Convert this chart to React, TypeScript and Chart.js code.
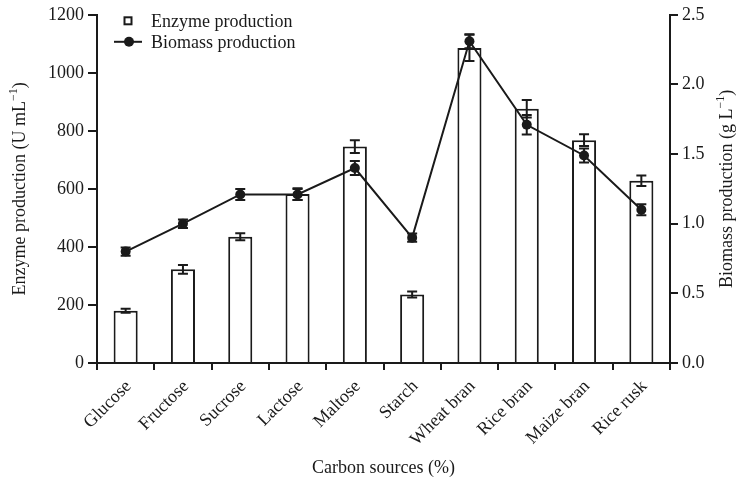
import { useEffect, useRef } from 'react';
import { Chart, registerables } from 'chart.js';

Chart.register(...registerables);

// Carbon sources tested
const categories = [
  'Glucose', 'Fructose', 'Sucrose', 'Lactose', 'Maltose',
  'Starch', 'Wheat bran', 'Rice bran', 'Maize bran', 'Rice rusk',
];

// Enzyme production (U mL-1) with standard error
const enzyme = [180, 323, 435, 582, 746, 236, 1086, 876, 768, 628];
const enzymeErr = [7, 15, 12, 20, 22, 10, 45, 30, 20, 18];

// Biomass production (g L-1) with standard error
const biomass = [0.8, 1.0, 1.21, 1.21, 1.4, 0.9, 2.31, 1.71, 1.49, 1.1];
const biomassErr = [0.03, 0.03, 0.04, 0.04, 0.05, 0.03, 0.05, 0.07, 0.05, 0.04];

// Axis ranges and tick steps
const enzymeTicks = { min: 0, max: 1200, step: 200 };
const biomassTicks = { min: 0, max: 2.5, step: 0.5 };

const FONT = '"Liberation Serif", "Times New Roman", serif';
const INK = '#1a1a1a';
const FONT_SIZE = 18;

type Part = { text: string; sup?: boolean };

function drawRich(ctx: CanvasRenderingContext2D, parts: Part[], cx: number, cy: number, angle: number) {
  ctx.save();
  ctx.translate(cx, cy);
  ctx.rotate(angle);
  ctx.fillStyle = INK;
  ctx.textBaseline = 'middle';
  ctx.textAlign = 'left';
  const widths = parts.map((p) => {
    ctx.font = `${p.sup ? 12 : FONT_SIZE}px ${FONT}`;
    return ctx.measureText(p.text).width;
  });
  const total = widths.reduce((a, b) => a + b, 0);
  let x = -total / 2;
  parts.forEach((p, i) => {
    ctx.font = `${p.sup ? 12 : FONT_SIZE}px ${FONT}`;
    ctx.fillText(p.text, x, p.sup ? -6 : 0);
    x += widths[i];
  });
  ctx.restore();
}

export default function App() {
  const ref = useRef<HTMLCanvasElement>(null);

  useEffect(() => {
    if (!ref.current) return;

    const errorBars = {
      id: 'errorBars',
      afterDatasetsDraw(chart: any) {
        const ctx = chart.ctx as CanvasRenderingContext2D;
        const xs = chart.scales.x;
        const yL = chart.scales.y;
        const yR = chart.scales.y1;
        const half = 5;
        const draw = (cx: number, top: number, bot: number) => {
          ctx.beginPath();
          ctx.moveTo(cx, top);
          ctx.lineTo(cx, bot);
          ctx.moveTo(cx - half, top);
          ctx.lineTo(cx + half, top);
          ctx.moveTo(cx - half, bot);
          ctx.lineTo(cx + half, bot);
          ctx.stroke();
        };
        ctx.save();
        ctx.strokeStyle = INK;
        ctx.lineWidth = 2;
        categories.forEach((_, i) => {
          const cx = xs.getPixelForValue(i);
          draw(cx, yL.getPixelForValue(enzyme[i] + enzymeErr[i]), yL.getPixelForValue(enzyme[i] - enzymeErr[i]));
          draw(cx, yR.getPixelForValue(biomass[i] + biomassErr[i]), yR.getPixelForValue(biomass[i] - biomassErr[i]));
        });
        ctx.restore();
      },
    };

    const decorations = {
      id: 'decorations',
      afterDraw(chart: any) {
        const ctx = chart.ctx as CanvasRenderingContext2D;
        const area = chart.chartArea;
        const midY = (area.top + area.bottom) / 2;
        const midX = (area.left + area.right) / 2;

        // axis titles
        drawRich(ctx, [{ text: 'Enzyme production (U mL' }, { text: '\u22121', sup: true }, { text: ')' }], 20, midY, -Math.PI / 2);
        drawRich(ctx, [{ text: 'Biomass production (g L' }, { text: '\u22121', sup: true }, { text: ')' }], 727, midY, -Math.PI / 2);
        drawRich(ctx, [{ text: 'Carbon sources (%)' }], midX, 468, 0);

        // legend
        ctx.save();
        ctx.strokeStyle = INK;
        ctx.fillStyle = INK;
        ctx.lineWidth = 2;
        const lx = area.left + 31;
        const row1 = area.top + 6;
        const row2 = area.top + 27;
        ctx.strokeRect(lx - 3.5, row1 - 3.5, 7, 7);
        ctx.beginPath();
        ctx.moveTo(lx - 14, row2);
        ctx.lineTo(lx + 14, row2);
        ctx.stroke();
        ctx.beginPath();
        ctx.arc(lx + 1, row2, 5, 0, Math.PI * 2);
        ctx.fill();
        ctx.font = `${FONT_SIZE}px ${FONT}`;
        ctx.textBaseline = 'middle';
        ctx.textAlign = 'left';
        ctx.fillText('Enzyme production', lx + 23, row1 + 1);
        ctx.fillText('Biomass production', lx + 23, row2 + 1);
        ctx.restore();
      },
    };

    const tickFont = { family: FONT, size: FONT_SIZE };

    const chart = new Chart(ref.current, {
      type: 'bar',
      data: {
        labels: categories,
        datasets: [
          {
            type: 'line',
            label: 'Biomass production',
            data: biomass,
            yAxisID: 'y1',
            borderColor: INK,
            borderWidth: 2,
            pointRadius: 5,
            pointBackgroundColor: INK,
            pointBorderColor: INK,
            pointBorderWidth: 0,
            tension: 0,
            order: 0,
          } as any,
          {
            type: 'bar',
            label: 'Enzyme production',
            data: enzyme,
            yAxisID: 'y',
            backgroundColor: '#ffffff',
            borderColor: INK,
            borderWidth: 2,
            barPercentage: 0.42,
            categoryPercentage: 1,
            order: 1,
          },
        ],
      },
      options: {
        responsive: false,
        animation: false,
        devicePixelRatio: 1,
        layout: { padding: { top: 14, left: 0, right: 0, bottom: 0 } },
        plugins: {
          legend: { display: false },
          tooltip: { enabled: false },
        },
        scales: {
          x: {
            type: 'category',
            offset: true,
            grid: { offset: true, drawOnChartArea: false, drawTicks: true, tickLength: 7, color: INK, lineWidth: 2 },
            border: { display: true, color: INK, width: 2 },
            ticks: {
              font: tickFont,
              color: INK,
              maxRotation: 45,
              minRotation: 45,
              autoSkip: false,
              padding: 6,
              labelOffset: 3,
            },
            afterFit(s: any) { s.height = 119; },
          },
          y: {
            position: 'left',
            min: enzymeTicks.min,
            max: enzymeTicks.max,
            grid: { drawOnChartArea: false, drawTicks: true, tickLength: 9, color: INK, lineWidth: 2 },
            border: { display: true, color: INK, width: 2 },
            ticks: {
              stepSize: enzymeTicks.step,
              font: tickFont,
              color: INK,
              padding: 4,
              callback: (v: any) => String(v),
            },
            afterFit(s: any) { s.width = 97; },
          },
          y1: {
            position: 'right',
            min: biomassTicks.min,
            max: biomassTicks.max,
            grid: { drawOnChartArea: false, drawTicks: true, tickLength: 8, color: INK, lineWidth: 2 },
            border: { display: true, color: INK, width: 2 },
            ticks: {
              stepSize: biomassTicks.step,
              font: tickFont,
              color: INK,
              padding: 4,
              callback: (v: any) => Number(v).toFixed(1),
            },
            afterFit(s: any) { s.width = 73; },
          },
        },
      },
      plugins: [errorBars, decorations],
    });

    return () => chart.destroy();
  }, []);

  return (
    <div style={{ position: 'fixed', left: 0, top: 0, width: 743, height: 482, background: '#ffffff' }}>
      <canvas ref={ref} width={743} height={482} />
    </div>
  );
}
